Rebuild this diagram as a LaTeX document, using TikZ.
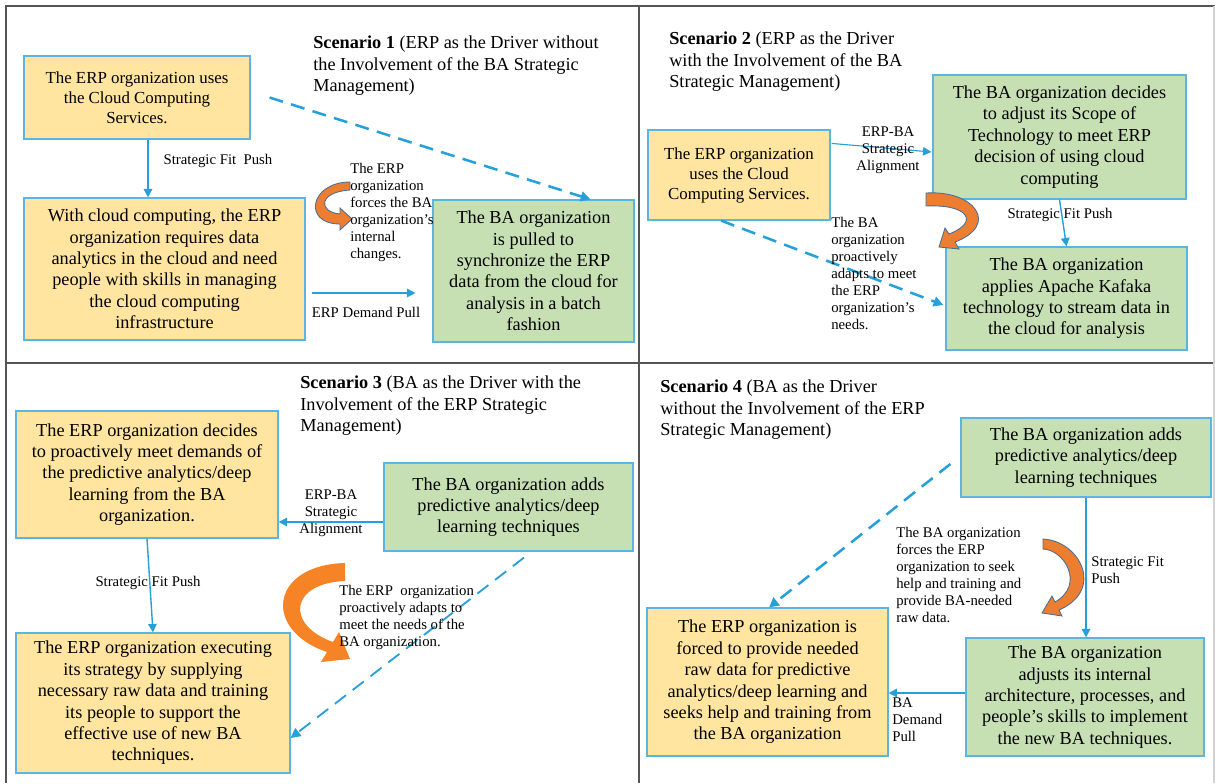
\documentclass[tikz,border=0pt]{standalone}
\usepackage{fontspec}
\setmainfont{Liberation Serif}
\usepackage{xcolor}
\usepackage{tikz}
\usetikzlibrary{arrows.meta,positioning,calc}

\definecolor{erpfill}{RGB}{255,229,160}
\definecolor{bafill}{RGB}{198,224,180}
\definecolor{boxline}{RGB}{91,181,224}
\definecolor{arrowblue}{RGB}{38,160,218}
\definecolor{swirl}{RGB}{237,125,49}
\definecolor{swirlsolid}{RGB}{246,132,38}
\definecolor{swirlline}{RGB}{70,110,150}
\definecolor{framegray}{RGB}{85,85,85}

\newcommand{\boxfont}{\fontsize{13}{15.2}\selectfont}
\newcommand{\midfont}{\fontsize{12}{14.2}\selectfont}
\newcommand{\notefont}{\fontsize{10.5}{12.1}\selectfont}

\tikzset{
	erpbox/.style={draw=boxline, line width=0.8pt, fill=erpfill, align=center, inner sep=2pt, font=\boxfont},
	babox/.style={draw=boxline, line width=0.8pt, fill=bafill, align=center, inner sep=2pt, font=\boxfont},
	title/.style={anchor=north west, align=left, inner sep=0pt, font=\boxfont},
	note/.style={anchor=north west, align=left, inner sep=0pt, font=\notefont},
	conn/.style={draw=arrowblue, line width=1.2pt, -{Triangle[length=6pt,width=6pt]}},
	pullconn/.style={draw=arrowblue, line width=1.8pt, dash pattern=on 10pt off 6pt, -{Triangle[length=7pt,width=7pt]}},
	swirlarrow/.style={fill=swirl, draw=swirlline, line width=0.6pt}
}

\begin{document}
\begin{tikzpicture}[x=0.025cm, y=-0.025cm]
		\useasboundingbox (0,0) rectangle (1215,783);

		\draw[framegray, line width=1pt] (6,783) -- (6,6) -- (1215,6);
		\draw[framegray, line width=0.8pt] (6,363) -- (1215,363);
		\draw[framegray, line width=0.8pt] (639,6) -- (639,783);
		\draw[gray!35, line width=0.8pt] (1214,6) -- (1214,783);

		% Scenario 1
		\node[title] (s1title) at (313,36) {\textbf{Scenario 1} (ERP as the Driver without\\the Involvement of the BA Strategic\\Management)};
		\node[erpbox, font=\midfont, minimum width=5.65cm, minimum height=2.075cm] (s1erp) at (137,97.5) {The ERP organization uses\\the Cloud Computing\\Services.};
		\node[erpbox, minimum width=7.025cm, minimum height=3.55cm] (s1need) at (164.5,269) {With cloud computing, the ERP\\organization requires data\\analytics in the cloud and need\\people with skills in managing\\the cloud computing\\infrastructure};
		\node[babox, minimum width=5.025cm, minimum height=3.55cm] (s1ba) at (533.5,271) {The BA organization\\is pulled to\\synchronize the ERP\\data from the cloud for\\analysis in a batch\\fashion};

		\coordinate (s1a) at ($(s1erp.south)+(11,0)$);
		\draw[conn] (s1a) -- (s1a |- s1need.north);
		\node[font=\notefont] (s1fit) at (218,161) {Strategic Fit~~Push};
		\draw[pullconn] ($(s1erp.east)+(19,0)$) -- ($(s1ba.north)+(57,0)$);
		\draw[conn] ($(s1need.east)+(6,24)$) -- ($(s1ba.west)+(-17,22)$);
		\node[font=\notefont] (s1pull) at (366,312) {ERP Demand Pull};
		\fill[swirlarrow] (350,182) .. controls (310,182) and (302,224) .. (340,224) -- (340,230) -- (352,219) -- (340,208) -- (340,214) .. controls (318,212) and (318,192) .. (350,190) -- cycle;
		\node[note] (s1force) at (350,163) {The ERP\\organization\\forces the BA\\organization’s\\internal\\changes.};

		% Scenario 2
		\node[title] (s2title) at (669,32) {\textbf{Scenario 2} (ERP as the Driver\\with the Involvement of the BA\\Strategic Management)};
		\node[erpbox, font=\midfont, minimum width=4.55cm, minimum height=2.25cm] (s2erp) at (739,175) {The ERP organization\\uses the Cloud\\Computing Services.};
		\node[babox, minimum width=6.325cm, minimum height=3.1cm] (s2scope) at (1059.5,137) {The BA organization decides\\to adjust its Scope of\\Technology to meet ERP\\decision of using cloud\\computing};
		\node[babox, minimum width=6.025cm, minimum height=2.575cm] (s2kafka) at (1066.5,298.5) {The BA organization\\applies Apache Kafaka\\technology to stream data in\\the cloud for analysis};

		\draw[conn, line width=0.8pt] ($(s2erp.north east)+(1,14)$) -- ($(s2scope.west)+(-1,15)$);
		\node[note, anchor=north, align=center] (s2align) at (888,126) {ERP-BA\\Strategic\\Alignment};
		\draw[conn, line width=1pt] (s2scope.south) -- (s2kafka.north);
		\node[font=\notefont] (s2fit) at (1060,215) {Strategic Fit Push};
		\draw[pullconn] ($(s2erp.south)+(-18,0)$) -- ($(s2kafka.west)+(-2,6.5)$);
		\fill[swirlarrow] (926,193) .. controls (975,190) and (1000,225) .. (955,242) -- (959,249) -- (939,247) -- (945,228) -- (949,234) .. controls (980,222) and (968,204) .. (926,206) -- cycle;
		\node[note] (s2adapt) at (831,217) {The BA\\organization\\proactively\\adapts to meet\\the ERP\\organization’s\\needs.};

		% Scenario 3
		\node[title] (s3title) at (300,376) {\textbf{Scenario 3} (BA as the Driver with the\\Involvement of the ERP Strategic\\Management)};
		\node[erpbox, minimum width=6.55cm, minimum height=3.175cm] (s3meet) at (147,474.5) {The ERP organization decides\\to proactively meet demands of\\the predictive analytics/deep\\learning from the BA\\organization.};
		\node[babox, minimum width=6.225cm, minimum height=2.2cm] (s3adds) at (508.5,507) {The BA organization adds\\predictive analytics/deep\\learning techniques};
		\node[erpbox, minimum width=6.85cm, minimum height=3.5cm] (s3exec) at (153,703) {The ERP organization executing\\its strategy by supplying\\necessary raw data and training\\its people to support the\\effective use of new BA\\techniques.};

		\coordinate (s3b) at ($(s3adds.west)+(0,15)$);
		\draw[conn] (s3b) -- (s3b -| s3meet.east);
		\node[note, anchor=north, align=center] (s3align) at (331,489) {ERP-BA\\Strategic\\Alignment};
		\node[font=\notefont] (s3fit) at (148,583) {Strategic Fit Push};
		\draw[conn, line width=1pt] (s3meet.south) -- (s3exec.north);
		\draw[pullconn, line width=1.3pt] ($(s3adds.south)+(15.5,6)$) -- ($(s3exec.east)+(0,35)$);
		\fill[swirlsolid] (345,563) .. controls (270,565) and (262,630) .. (327,652) -- (321,662) -- (350,659) -- (339,632) -- (333,642) .. controls (285,625) and (290,583) .. (345,581) -- cycle;
		\node[note] (s3adapt) at (339,585) {The ERP~~organization\\proactively adapts to\\meet the needs of the\\BA organization.};

		% Scenario 4
		\node[title] (s4title) at (660,380) {\textbf{Scenario 4} (BA as the Driver\\without the Involvement of the ERP\\Strategic Management)};
		\node[babox, minimum width=6.25cm, minimum height=1.975cm] (s4adds) at (1086,457.5) {The BA organization adds\\predictive analytics/deep\\learning techniques};
		\node[babox, minimum width=5.95cm, minimum height=2.95cm] (s4adjust) at (1085,697) {The BA organization\\adjusts its internal\\architecture, processes, and\\people’s skills to implement\\the new BA techniques.};
		\node[erpbox, minimum width=6.025cm, minimum height=3.7cm] (s4forced) at (767.5,682) {The ERP organization is\\forced to provide needed\\raw data for predictive\\analytics/deep learning and\\seeks help and training from\\the BA organization};

		\draw[conn] (s4adds.south) -- (s4adds.south |- s4adjust.north);
		\node[note] (s4fit) at (1091,556) {Strategic Fit\\Push};
		\coordinate (s4c) at ($(s4adjust.west)+(0,-4)$);
		\draw[conn, line width=1.6pt] (s4c) -- (s4c -| s4forced.east);
		\node[note] (s4pull) at (892,697) {BA\\Demand\\Pull};
		\draw[pullconn] ($(s4adds.west)+(-10,6.5)$) -- ($(s4forced.north)+(1.5,0)$);
		\fill[swirlarrow] (1043,539) .. controls (1080,541) and (1105,590) .. (1059,610) -- (1062,616) -- (1042,613) -- (1052,596) -- (1055,602) .. controls (1085,585) and (1065,550) .. (1043,549) -- cycle;
		\node[note] (s4force) at (896,527) {The BA organization\\forces the ERP\\organization to seek\\help and training and\\provide BA-needed\\raw data.};
	\end{tikzpicture}
\end{document}
